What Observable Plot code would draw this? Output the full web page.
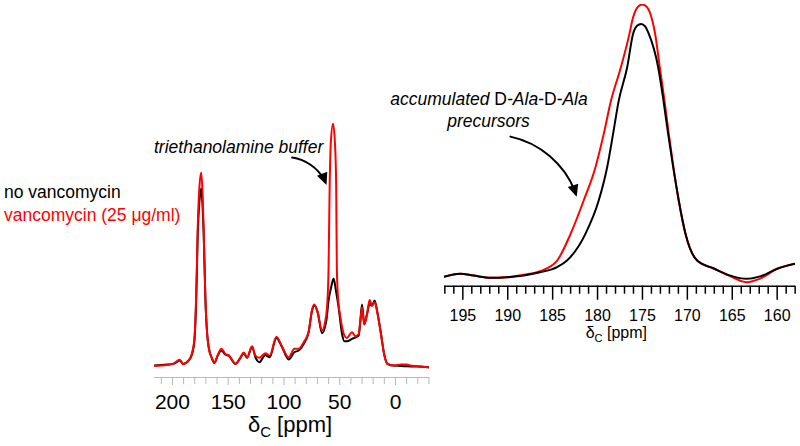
<!DOCTYPE html>
<html><head><meta charset="utf-8">
<script src="https://cdn.jsdelivr.net/npm/d3@7"></script>
<script src="https://cdn.jsdelivr.net/npm/@observablehq/plot@0.6"></script>
<style>
html,body{margin:0;padding:0;background:#fff;}
#chart{position:relative;width:800px;height:446px;overflow:hidden;font-family:"Liberation Sans",Arial,sans-serif;}
#chart svg{position:absolute;left:0;top:0;}
</style></head><body><div id="chart"></div>
<script>
// ---------- Data: full spectrum (left panel) ----------
const leftPpmK = [216, 205, 199, 193.4, 190.4, 185.4, 182.4, 180.3, 178.5, 177.3, 175.8, 174.2, 172.9, 172.0, 170.4, 168.9, 167.5, 164.4, 162.4, 159.4, 156.1, 152.5, 149.5, 143.5, 139, 136.1, 133.1, 128.6, 125.6, 122, 116.7, 112.8, 106.8, 101.7, 95.8, 90.7, 86.8, 82.3, 77.9, 74.8, 72.8, 69.8, 65.9, 62.0, 60.0, 57.5, 55.5, 53.3, 51.0, 48.0, 45.9, 43.5, 39, 33, 31.5, 30, 28, 25.5, 23.2, 21.1, 18.7, 16, 13, 10.2, 7.2, 2, -10, -19, -30.5];
const leftIntK = [0.4, 0.8, 1.1, 2.5, 1.1, 2.5, 5.2, 10.7, 31, 55, 68, 73.3, 65, 54.7, 27, 13.6, 7.9, 3.2, 1.5, 4.5, 6.6, 4.9, 4.5, 1.1, 3.6, 5.5, 3.6, 8.2, 3.8, 1.8, 4.8, 3.8, 11.8, 7.9, 2.9, 5.9, 6.6, 9.3, 14.1, 23, 25.1, 22.3, 13.7, 18.9, 27.2, 33, 36.2, 31, 24.4, 13.6, 10.4, 10.4, 11.4, 12.8, 18.9, 25.5, 17.3, 21.7, 25.8, 25.1, 27.2, 21.7, 13.4, 5.2, 1.1, 0.4, 0.1, 0, -0.3];
const leftPpmR = [216, 205, 199, 193.4, 190.4, 185.4, 182.4, 180.3, 178.5, 177.3, 175.8, 174.2, 172.9, 172.0, 170.4, 168.9, 167.5, 164.4, 162.4, 159.4, 156.1, 152.5, 149.5, 143.5, 139, 136.1, 133.1, 128.6, 125.6, 122, 116.7, 112.8, 106.8, 101.7, 95.8, 90.7, 86.8, 82.3, 77.9, 74.8, 72.8, 69.8, 65.9, 62.9, 61.0, 60.0, 59.0, 58.0, 56.0, 54.3, 53.2, 52.6, 51.5, 49.4, 46.5, 43.5, 39, 36, 33, 31.5, 30, 28, 25.5, 23.2, 21.1, 18.7, 16, 13, 10.2, 7.2, 2, -5, -10, -15, -19, -25, -30.5];
const leftIntR = [0.3, 0.6, 1.2, 2.8, 1.0, 2.6, 5.6, 11.5, 33, 58, 74, 79.8, 70, 56, 27.5, 13.6, 7.9, 3.2, 1.5, 4.8, 7.3, 5.2, 4.6, 1.2, 3.8, 5.8, 3.8, 8.4, 4.5, 3.6, 5.5, 4.5, 12.3, 8.2, 3.8, 7.3, 7.3, 10, 14.3, 23.5, 25.5, 22.5, 14.8, 18.9, 27, 41, 75, 92, 100, 92, 75, 41, 28, 20.3, 13.6, 11.8, 14.1, 12.5, 13.4, 18.9, 24.4, 17.5, 21.5, 27.4, 25, 26.5, 21.5, 13.4, 5.2, 1.1, 0.4, 0.9, 0.8, 0.3, 0.2, -0.1, -0.4];
const leftMajorTicks = [200, 150, 100, 50, 0];
const leftMinorTicks = [210, 190, 180, 170, 160, 140, 130, 120, 110, 90, 80, 70, 60, 40, 30, 20, 10, -10, -20, -30];
const leftArrow = {from: [92.7, 86], to: [61.4, 74.5]};

// ---------- Data: carbonyl region (right panel) ----------
const rightPpmK = [197.2, 195.3, 193.8, 191.9, 190.1, 188.2, 186.4, 184.5, 183.4, 181.35, 179.87, 178.93, 178.27, 177.64, 176.7, 176.04, 175.6, 175.15, 174.7, 174.3, 173.25, 172.66, 172.14, 171.58, 170.96, 170.21, 168.91, 167.06, 165.2, 163.4, 161.9, 160.0, 157.9];
const rightIntK = [0.2, 1.4, 0.7, -0.1, 0.1, 0.7, 1.9, 3.8, 6.2, 16.0, 28.2, 40.4, 52.6, 64.8, 77.0, 89.3, 92.2, 92.9, 92.0, 89.3, 77.0, 64.8, 52.6, 40.4, 28.2, 16.0, 6.2, 3.3, 0.7, -0.5, 0.4, 3.2, 5.1];
const rightPpmR = [197.2, 195.3, 193.8, 191.9, 190.1, 188.2, 186.4, 184.5, 183.0, 181.54, 180.23, 179.31, 178.5, 177.4, 176.5, 176.04, 175.5, 175.0, 174.5, 174.0, 173.59, 173.07, 172.55, 172.07, 171.55, 170.96, 170.21, 168.91, 167.06, 165.2, 163.4, 161.9, 160.0, 157.9];
const rightIntR = [0.2, 1.4, 0.7, -0.1, 0.1, 1.0, 2.3, 6.2, 16.0, 28.2, 40.4, 52.6, 64.8, 77.0, 88.5, 95.3, 99.2, 100, 99, 95.3, 89.3, 77.0, 64.8, 52.6, 40.4, 28.2, 16.0, 6.2, 3.3, 0.4, -1.7, -0.4, 3.2, 5.1];
const rightMajorTicks = [195, 190, 185, 180, 175, 170, 165, 160];
const rightMinorTicks = [197, 196, 194, 193, 192, 191, 189, 188, 187, 186, 184, 183, 182, 181, 179, 178, 177, 176, 174, 173, 172, 171, 169, 168, 167, 166, 164, 163, 162, 161, 159, 158];
const rightArrow = {from: [189.7, 51.6], to: [182.27, 29.4]};

// ---------- Text ----------
const seriesNames = ["no vancomycin", "vancomycin (25 \u03bcg/ml)"];
const seriesColors = ["#000000", "#ff0000"];
const bufferNote = "triethanolamine buffer";
const precursorNote = [["accumulated ", true], ["D", false], ["-Ala-", true], ["D", false], ["-Ala", true]];
const precursorNote2 = "precursors";

const FONT = "Liberation Sans, Arial, sans-serif";
const BEND = 30;
const zip = (xs, ys) => xs.map((x, i) => ({ppm: x, v: ys[i]}));
const root = document.getElementById("chart");

function arrowShaft(a) {
  return Plot.arrow([a], {x1: d => d.from[0], y1: d => d.from[1], x2: d => d.to[0], y2: d => d.to[1],
    bend: BEND, stroke: "#000", strokeWidth: 2, headLength: 0, insetEnd: 6});
}

// ---------- Left plot ----------
const leftPlot = Plot.plot({
  width: 800, height: 446,
  marginLeft: 154, marginRight: 371, marginTop: 123, marginBottom: 69,
  style: {background: "transparent", fontFamily: FONT, overflow: "visible"},
  x: {domain: [216.1, -30.5], label: null},
  y: {domain: [-4.5, 100], axis: null, label: null},
  marks: [
    Plot.axisX(leftMinorTicks, {tickSize: 7, stroke: "#b8b8b8", tickFormat: () => ""}),
    Plot.axisX(leftMajorTicks, {tickSize: 8, tickPadding: 9, stroke: "#b8b8b8", fontSize: 21, tickFormat: d => String(d)}),
    Plot.ruleY([-4.5], {stroke: "#b8b8b8"}),
    Plot.line(zip(leftPpmK, leftIntK), {x: "ppm", y: "v", stroke: seriesColors[0], strokeWidth: 2, curve: "monotone-x", clip: true}),
    Plot.line(zip(leftPpmR, leftIntR), {x: "ppm", y: "v", stroke: seriesColors[1], strokeWidth: 2, curve: "monotone-x", clip: true}),
    arrowShaft(leftArrow)
  ]
});
root.appendChild(leftPlot);

// ---------- Right plot ----------
const rightPlot = Plot.plot({
  width: 800, height: 446,
  marginLeft: 444, marginRight: 5, marginTop: 4, marginBottom: 160.3,
  style: {background: "transparent", fontFamily: FONT, overflow: "visible"},
  x: {domain: [197.04, 157.96], label: null},
  y: {domain: [-3.19, 100], axis: null, label: null},
  marks: [
    Plot.axisX(rightMinorTicks, {tickSize: 8, strokeWidth: 1.5, tickFormat: () => ""}),
    Plot.axisX(rightMajorTicks, {tickSize: 14, strokeWidth: 1.5, tickPadding: 9.5, fontSize: 16, tickFormat: d => String(d)}),
    Plot.ruleY([-3.19], {strokeWidth: 1.6}),
    Plot.line(zip(rightPpmR, rightIntR), {x: "ppm", y: "v", stroke: seriesColors[1], strokeWidth: 2, curve: "monotone-x", clip: true}),
    Plot.line(zip(rightPpmK, rightIntK), {x: "ppm", y: "v", stroke: seriesColors[0], strokeWidth: 2, curve: "monotone-x", clip: true}),
    arrowShaft(rightArrow)
  ]
});
root.appendChild(rightPlot);

// ---------- Overlay: filled arrowheads (via the plots' scales) and text ----------
const svg = d3.select(root).append("svg").attr("width", 800).attr("height", 446)
  .style("font-family", FONT).style("pointer-events", "none");

function arrowHead(plot, a) {
  const sx = plot.scale("x"), sy = plot.scale("y");
  const x1 = sx.apply(a.from[0]), y1 = sy.apply(a.from[1]);
  const x2 = sx.apply(a.to[0]), y2 = sy.apply(a.to[1]);
  const ang = Math.atan2(y2 - y1, x2 - x1) + BEND * Math.PI / 180;
  const L = 12, W = 5.5;
  const bx = x2 - L * Math.cos(ang), by = y2 - L * Math.sin(ang);
  const px = -Math.sin(ang), py = Math.cos(ang);
  svg.append("path")
    .attr("d", `M${x2},${y2}L${bx + W * px},${by + W * py}L${bx - W * px},${by - W * py}Z`)
    .attr("fill", "#000");
}
arrowHead(leftPlot, leftArrow);
arrowHead(rightPlot, rightArrow);

seriesNames.forEach((name, i) => {
  svg.append("text").attr("x", 4).attr("y", 197.5 + 23 * i)
    .attr("font-size", 17.5).attr("fill", seriesColors[i]).text(name);
});

svg.append("text").attr("x", 154).attr("y", 153.3).attr("font-size", 17.5)
  .attr("font-style", "italic").text(bufferNote);

const t1 = svg.append("text").attr("x", 489).attr("y", 105).attr("font-size", 17.5).attr("text-anchor", "middle");
precursorNote.forEach(([s, it]) => t1.append("tspan").attr("font-style", it ? "italic" : "normal").text(s));
svg.append("text").attr("x", 488.5).attr("y", 126.7).attr("font-size", 17.5).attr("text-anchor", "middle")
  .attr("font-style", "italic").text(precursorNote2);

function axisLabel(x, y, size, subSize, shift) {
  const t = svg.append("text").attr("x", x).attr("y", y).attr("font-size", size).attr("text-anchor", "middle");
  t.append("tspan").text("\u03b4");
  t.append("tspan").attr("font-size", subSize).attr("dy", shift).text("C");
  t.append("tspan").attr("dy", -shift).text(" [ppm]");
}
axisLabel(290, 431.7, 22, 15, 5);
axisLabel(616.3, 337.7, 16, 11, 4);
</script></body></html>
